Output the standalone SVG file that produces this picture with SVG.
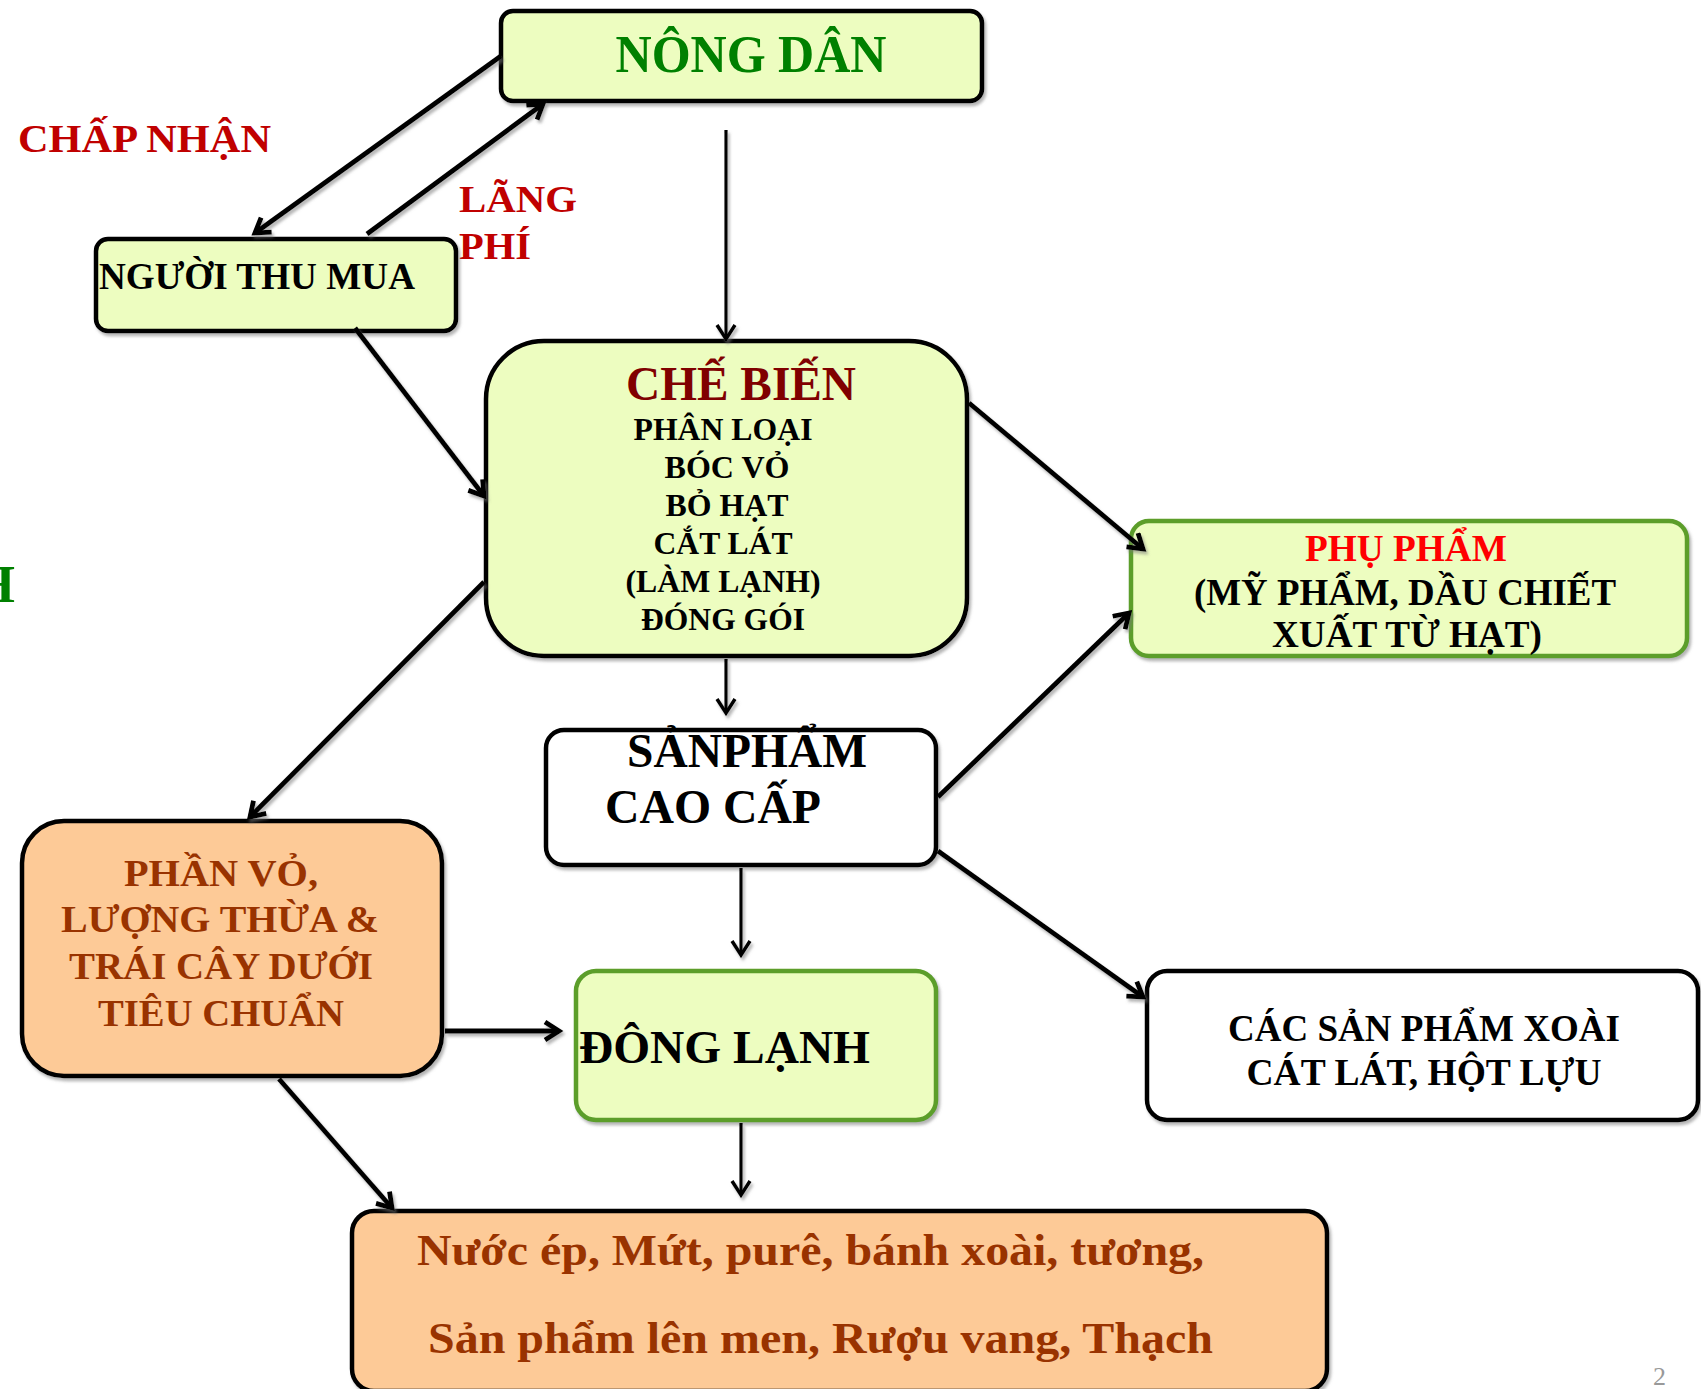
<svg xmlns="http://www.w3.org/2000/svg" width="1701" height="1389" viewBox="0 0 1701 1389">
<style>
text{font-family:"Liberation Serif","Times New Roman",serif;font-weight:bold}
.box{stroke:#000;stroke-width:4.5}
.lime{fill:#EDFDC0}
.peach{fill:#FDCA97}
.white{fill:#FFFFFF}
.gbox{stroke:#5B9E2B;stroke-width:4.5}
.c{text-anchor:middle}
.conn line{stroke:#000;stroke-width:4.8;marker-end:url(#arr)}
.conn line.thin{stroke-width:3.2;marker-end:url(#arrs)}
.brown{fill:#993300}
</style>
<defs>
<filter id="sh" x="-10%" y="-10%" width="130%" height="130%">
<feDropShadow dx="2" dy="3" stdDeviation="1.5" flood-color="#777" flood-opacity="0.55"/>
</filter>
<marker id="arr" markerUnits="userSpaceOnUse" markerWidth="30" markerHeight="30" refX="17" refY="11" orient="auto">
<path d="M3,2 L17,11 L3,20" fill="none" stroke="#000" stroke-width="4.8"/>
</marker>
<marker id="arrs" markerUnits="userSpaceOnUse" markerWidth="30" markerHeight="30" refX="17" refY="11" orient="auto">
<path d="M3,2 L17,11 L3,20" fill="none" stroke="#000" stroke-width="3.5"/>
</marker>
</defs>
<rect width="1701" height="1389" fill="#FFFFFF"/>

<g id="labels">
<text x="18" y="152" font-size="41" fill="#C00000" textLength="253" lengthAdjust="spacingAndGlyphs">CHẤP NHẬN</text>
<text x="459" y="212" font-size="38" fill="#C00000" textLength="118" lengthAdjust="spacingAndGlyphs">LÃNG</text>
<text x="459" y="259" font-size="38" fill="#C00000" textLength="72" lengthAdjust="spacingAndGlyphs">PHÍ</text>
<text x="15" y="602" font-size="53" fill="#008000" text-anchor="end">H</text>
<text x="1666" y="1385" font-size="26" fill="#999999" text-anchor="end" style="font-weight:normal">2</text>
</g>

<g id="nong-dan">
<rect class="box lime" x="501" y="11" width="481" height="90" rx="12" filter="url(#sh)"/>
<text class="c" x="751" y="72" font-size="53" fill="#008000" textLength="271" lengthAdjust="spacingAndGlyphs">NÔNG DÂN</text>
</g>

<g id="nguoi-thu-mua">
<rect class="box lime" x="96" y="239" width="360" height="92" rx="12" filter="url(#sh)"/>
<text x="99" y="289" font-size="37" fill="#000" textLength="316" lengthAdjust="spacingAndGlyphs">NGƯỜI THU MUA</text>
</g>

<g id="che-bien">
<rect class="box lime" x="486" y="341" width="481" height="315" rx="58" filter="url(#sh)"/>
<text class="c" x="741" y="400" font-size="48" fill="#800000" textLength="230" lengthAdjust="spacingAndGlyphs">CHẾ BIẾN</text>
<text class="c" x="723" y="440" font-size="31" fill="#000" textLength="179" lengthAdjust="spacingAndGlyphs">PHÂN LOẠI</text>
<text class="c" x="727" y="478" font-size="31" fill="#000" textLength="125" lengthAdjust="spacingAndGlyphs">BÓC VỎ</text>
<text class="c" x="727" y="516" font-size="31" fill="#000" textLength="123" lengthAdjust="spacingAndGlyphs">BỎ HẠT</text>
<text class="c" x="723" y="554" font-size="31" fill="#000" textLength="139" lengthAdjust="spacingAndGlyphs">CẮT LÁT</text>
<text class="c" x="723" y="592" font-size="31" fill="#000" textLength="195" lengthAdjust="spacingAndGlyphs">(LÀM LẠNH)</text>
<text class="c" x="723" y="630" font-size="31" fill="#000" textLength="164" lengthAdjust="spacingAndGlyphs">ĐÓNG GÓI</text>
</g>

<g id="phu-pham">
<rect class="gbox lime" x="1131" y="521" width="556" height="135" rx="18" filter="url(#sh)"/>
<text class="c" x="1406" y="561" font-size="37" fill="#FF0000" textLength="202" lengthAdjust="spacingAndGlyphs">PHỤ PHẨM</text>
<text class="c" x="1405" y="605" font-size="37" fill="#000" textLength="422" lengthAdjust="spacingAndGlyphs">(MỸ PHẨM, DẦU CHIẾT</text>
<text class="c" x="1407" y="647" font-size="37" fill="#000" textLength="270" lengthAdjust="spacingAndGlyphs">XUẤT TỪ HẠT)</text>
</g>

<g id="san-pham-cao-cap">
<rect class="box white" x="546" y="730" width="390" height="135" rx="18" filter="url(#sh)"/>
<text x="627" y="767" font-size="48" fill="#000" textLength="240" lengthAdjust="spacingAndGlyphs">SẢNPHẨM</text>
<text x="605" y="823" font-size="48" fill="#000" textLength="216" lengthAdjust="spacingAndGlyphs">CAO CẤP</text>
</g>

<g id="phan-vo">
<rect class="box peach" x="22" y="821" width="420" height="255" rx="42" filter="url(#sh)"/>
<text class="c brown" x="221" y="886" font-size="38" textLength="194" lengthAdjust="spacingAndGlyphs">PHẦN VỎ,</text>
<text class="c brown" x="220" y="932" font-size="38" textLength="318" lengthAdjust="spacingAndGlyphs">LƯỢNG THỪA &amp;</text>
<text class="c brown" x="221" y="979" font-size="38" textLength="304" lengthAdjust="spacingAndGlyphs">TRÁI CÂY DƯỚI</text>
<text class="c brown" x="221" y="1026" font-size="38" textLength="246" lengthAdjust="spacingAndGlyphs">TIÊU CHUẨN</text>
</g>

<g id="dong-lanh">
<rect class="gbox lime" x="576" y="971" width="360" height="149" rx="20" filter="url(#sh)"/>
<text x="579" y="1063" font-size="47" fill="#000" textLength="291" lengthAdjust="spacingAndGlyphs">ĐÔNG LẠNH</text>
</g>

<g id="cac-san-pham">
<rect class="box white" x="1147" y="971" width="551" height="149" rx="20" filter="url(#sh)"/>
<text class="c" x="1424" y="1041" font-size="37" fill="#000" textLength="392" lengthAdjust="spacingAndGlyphs">CÁC SẢN PHẨM XOÀI</text>
<text class="c" x="1424" y="1085" font-size="37" fill="#000" textLength="355" lengthAdjust="spacingAndGlyphs">CÁT LÁT, HỘT LỰU</text>
</g>

<g id="san-pham-khac">
<rect class="box peach" x="352" y="1211" width="975" height="180" rx="22" filter="url(#sh)"/>
<text class="brown" x="417" y="1265" font-size="45" textLength="787" lengthAdjust="spacingAndGlyphs">Nước ép, Mứt, purê, bánh xoài, tương,</text>
<text class="brown" x="428" y="1353" font-size="45" textLength="785" lengthAdjust="spacingAndGlyphs">Sản phẩm lên men, Rượu vang, Thạch</text>
</g>

<g id="connectors" class="conn" filter="url(#sh)">
<line x1="501" y1="56" x2="255" y2="233"/>
<line x1="367" y1="234" x2="543" y2="104"/>
<line class="thin" x1="726" y1="130" x2="726" y2="339"/>
<line x1="355" y1="328" x2="484" y2="496"/>
<line x1="969" y1="403" x2="1143" y2="549"/>
<line class="thin" x1="726" y1="659" x2="726" y2="713"/>
<line x1="484" y1="582" x2="250" y2="817"/>
<line x1="938" y1="797" x2="1129" y2="613"/>
<line class="thin" x1="741" y1="868" x2="741" y2="955"/>
<line x1="938" y1="851" x2="1143" y2="997"/>
<line x1="445" y1="1031" x2="559" y2="1031"/>
<line x1="279" y1="1079" x2="392" y2="1208"/>
<line class="thin" x1="741" y1="1123" x2="741" y2="1195"/>
</g>
</svg>
